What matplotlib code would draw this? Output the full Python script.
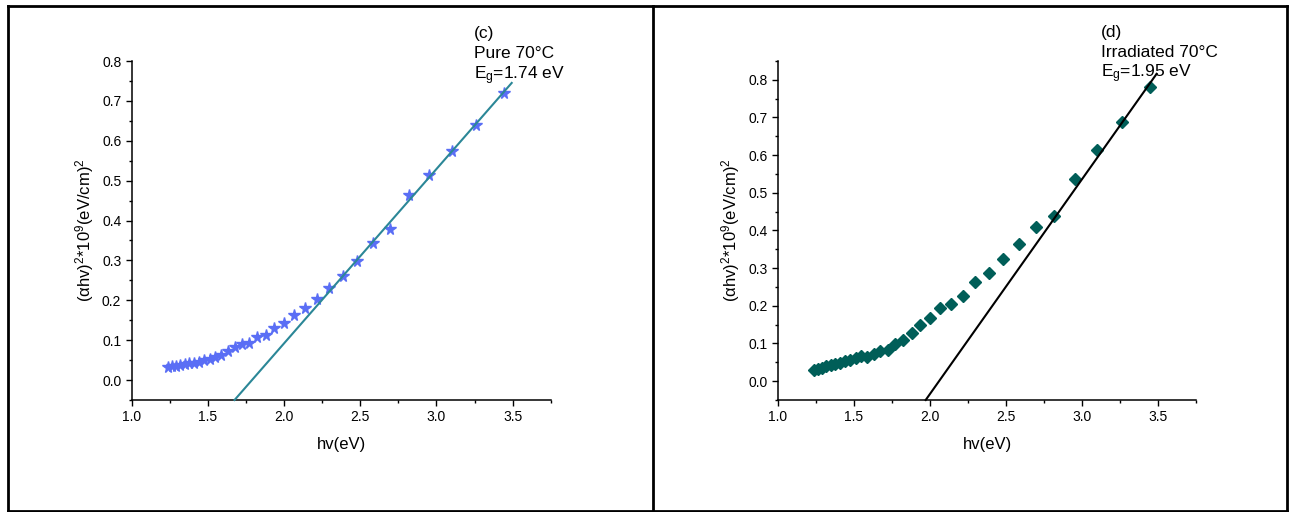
import numpy as np
import matplotlib.pyplot as plt
from matplotlib.ticker import MultipleLocator
from matplotlib.lines import Line2D

plt.rcParams['font.family'] = ['Liberation Sans', 'DejaVu Sans']
plt.rcParams['mathtext.fontset'] = 'custom'
plt.rcParams['mathtext.rm'] = 'Liberation Sans'
plt.rcParams['mathtext.it'] = 'Liberation Sans'
plt.rcParams['mathtext.default'] = 'regular'

# photon energy (eV), same grid for both samples
hv = [1.24, 1.265, 1.291, 1.319, 1.347, 1.377, 1.409, 1.441, 1.476, 1.512, 1.55,
      1.589, 1.631, 1.675, 1.722, 1.771, 1.823, 1.879, 1.937, 2.0, 2.066, 2.138,
      2.214, 2.296, 2.385, 2.48, 2.583, 2.696, 2.818, 2.952, 3.1, 3.263, 3.444]

# (alpha hv)^2 * 1e9, pure film at 70 C
pure = [0.032, 0.034, 0.036, 0.038, 0.040, 0.042, 0.044, 0.046, 0.050, 0.054, 0.058,
        0.063, 0.074, 0.082, 0.090, 0.092, 0.108, 0.114, 0.131, 0.144, 0.163, 0.181,
        0.202, 0.231, 0.262, 0.299, 0.343, 0.379, 0.465, 0.515, 0.574, 0.639, 0.720]

# irradiated film at 70 C
irrad = [0.030, 0.033, 0.036, 0.039, 0.042, 0.046, 0.049, 0.053, 0.057, 0.061, 0.066,
         0.064, 0.072, 0.080, 0.084, 0.098, 0.109, 0.129, 0.148, 0.167, 0.194, 0.204,
         0.227, 0.263, 0.288, 0.324, 0.363, 0.408, 0.438, 0.537, 0.615, 0.688, 0.780]

# linear extrapolation lines (end points)
fit_pure_x = [1.675, 3.494]
fit_pure_y = [-0.05, 0.745]
fit_irrad_x = [1.972, 3.49]
fit_irrad_y = [-0.05, 0.816]

labels_c = ['(c)', 'Pure 70°C', 'E$_g$=1.74 eV']
labels_d = ['(d)', 'Irradiated 70°C', 'E$_g$=1.95 eV']

W, H = 1290, 512
fig = plt.figure(figsize=(W / 100, H / 100), dpi=100)


def style_axes(ax, ytop):
    ax.set_xlim(1.0, 3.75)
    ax.set_ylim(-0.05, ytop)
    for s in ['top', 'right']:
        ax.spines[s].set_visible(False)
    for s in ['left', 'bottom']:
        ax.spines[s].set_linewidth(1.1)
    ax.xaxis.set_major_locator(MultipleLocator(0.5))
    ax.xaxis.set_minor_locator(MultipleLocator(0.25))
    ax.yaxis.set_major_locator(MultipleLocator(0.1))
    ax.yaxis.set_minor_locator(MultipleLocator(0.05))
    ax.set_yticks(np.arange(0, ytop + 0.001, 0.1))
    ax.tick_params(which='major', direction='out', length=4.5, width=1, labelsize=10, pad=3)
    ax.tick_params(which='minor', direction='out', length=2.5, width=1)
    ax.xaxis.set_major_formatter(plt.FormatStrFormatter('%.1f'))
    ax.yaxis.set_major_formatter(plt.FormatStrFormatter('%.1f'))
    ax.set_xlabel('hv(eV)', fontsize=12, labelpad=9)
    ax.set_ylabel('(αhv)$^2$*10$^9$(eV/cm)$^2$', fontsize=12, labelpad=4)


ax1 = fig.add_axes([131.7 / W, 112 / H, 419 / W, 339 / H])
ax1.plot(hv, pure, linestyle='none', marker='*', markersize=8.5,
         color='#5a6ef5', zorder=2)
ax1.plot(fit_pure_x, fit_pure_y, color='#2b8797', linewidth=1.5, zorder=3,
         clip_on=False)
style_axes(ax1, 0.8)

ax2 = fig.add_axes([777.8 / W, 112 / H, 418.4 / W, 339 / H])
ax2.plot(hv, irrad, linestyle='none', marker='D', markersize=6.5,
         color='#005e58', zorder=2)
ax2.plot(fit_irrad_x, fit_irrad_y, color='black', linewidth=1.5, zorder=3,
         clip_on=False)
style_axes(ax2, 0.85)
ax2.set_yticks(np.arange(0, 0.81, 0.1))

# annotation blocks
for lines, x0, bases in [(labels_c, 474.3, [38, 57.7, 79]),
                         (labels_d, 1100.7, [36.7, 57.3, 77.7])]:
    for txt, yb in zip(lines, bases):
        fig.text(x0 / W, 1 - yb / H, txt, fontsize=12.5, va='baseline', ha='left')

# panel frames
frame = dict(color='black', linewidth=2)
for xs, ys in [([7.6, 1287], [6, 6]), ([7.6, 1287], [510.7, 510.7]),
               ([7.6, 7.6], [6, 510.7]), ([652.5, 652.5], [6, 510.7]),
               ([1287, 1287], [6, 510.7])]:
    fig.add_artist(Line2D([x / W for x in xs], [1 - y / H for y in ys], **frame))

fig.savefig('out.png', dpi=100)
